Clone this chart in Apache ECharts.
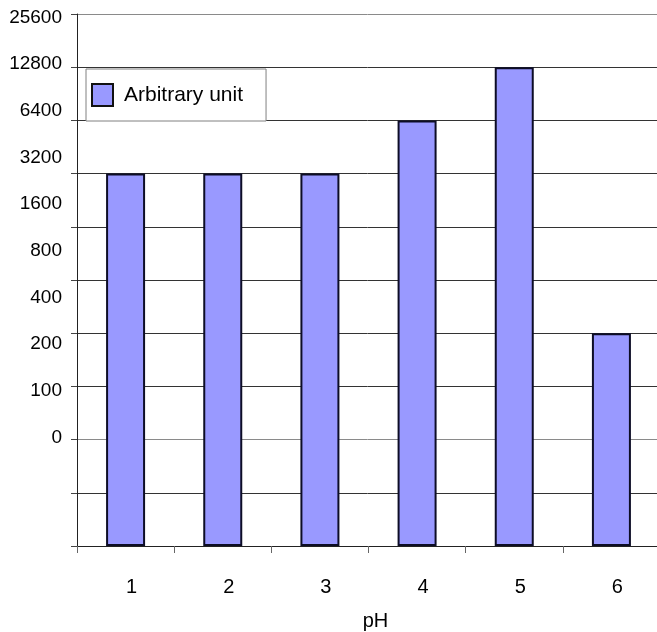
<!DOCTYPE html>
<html>
<head>
<meta charset="utf-8">
<script src="https://cdn.jsdelivr.net/npm/echarts@6/dist/echarts.min.js"></script>
<style>
  html, body { margin: 0; padding: 0; background: #fff; }
  #chart { width: 657px; height: 632px; }
</style>
</head>
<body>
<div id="chart"></div>
<script>
// pH categories along the x axis
var phValues = ['1', '2', '3', '4', '5', '6']
// bar heights, counted in grid steps from the bottom line
var barLevels = [7, 7, 7, 8, 9, 4]
// y tick labels, printed bottom to top
var yTickLabels = ['0', '100', '200', '400', '800', '1600', '3200', '6400', '12800', '25600']
var seriesName = 'Arbitrary unit'

// gridline colours, bottom to top (the "0" line and the top line are lighter)
var gridColors = ['#333', '#333', '#8a8a8a', '#333', '#333', '#333', '#333', '#333', '#333', '#333', '#8a8a8a']

var chart = echarts.init(document.getElementById('chart'), null, { renderer: 'canvas' })

chart.setOption({
  backgroundColor: '#fff',
  animation: false,
  textStyle: { fontFamily: 'Liberation Sans, Arial, sans-serif' },
  grid: {
    left: 77,
    right: -3,
    top: 14,
    bottom: 86,
    containLabel: false,
    outerBoundsMode: 'none'
  },
  legend: {
    left: 86,
    top: 69,
    orient: 'vertical',
    backgroundColor: '#fff',
    borderColor: '#808080',
    borderWidth: 1,
    borderRadius: 0,
    padding: [14, 23, 14, 5],
    itemWidth: 21,
    itemHeight: 22,
    icon: 'rect',
    itemStyle: { borderColor: '#111', borderWidth: 2 },
    textStyle: {
      fontSize: 21,
      color: '#000',
      padding: [0, 0, 0, 6],
      fontFamily: 'Liberation Sans, Arial, sans-serif'
    },
    data: [seriesName]
  },
  xAxis: {
    type: 'category',
    data: phValues,
    boundaryGap: true,
    name: 'pH',
    nameLocation: 'middle',
    nameGap: 65,
    nameTextStyle: { fontSize: 20, color: '#000', padding: [0, 0, 0, 14] },
    axisLine: { show: true, lineStyle: { color: '#222', width: 1 } },
    axisTick: { show: true, length: 7, alignWithLabel: false, lineStyle: { color: '#666' } },
    axisLabel: { fontSize: 20, color: '#000', margin: 31, padding: [0, 0, 0, 12] },
    splitLine: { show: false }
  },
  yAxis: [
    {
      // step scale carrying the gridlines and the bars
      type: 'value',
      min: 0,
      max: 10,
      interval: 1,
      axisLine: { show: true, lineStyle: { color: '#222', width: 1 } },
      axisTick: { show: true, length: 6, lineStyle: { color: '#444' } },
      axisLabel: { show: false },
      splitLine: { show: true, lineStyle: { color: gridColors, width: 1 } }
    },
    {
      // label scale: one printed label every 40 units
      type: 'value',
      position: 'left',
      min: -93,
      max: 363,
      interval: 1,
      axisLine: { show: false },
      axisTick: { show: false },
      splitLine: { show: false },
      axisLabel: {
        fontSize: 19,
        color: '#000',
        margin: 15,
        formatter: function (v) {
          if (v < 0 || v % 40 !== 0) return ''
          return yTickLabels[v / 40] || ''
        }
      }
    }
  ],
  series: [
    {
      name: seriesName,
      type: 'bar',
      yAxisIndex: 0,
      barWidth: 39,
      itemStyle: {
        color: '#9999ff',
        borderColor: '#0d0d26',
        borderWidth: 2
      },
      data: barLevels
    }
  ]
})
</script>
</body>
</html>
